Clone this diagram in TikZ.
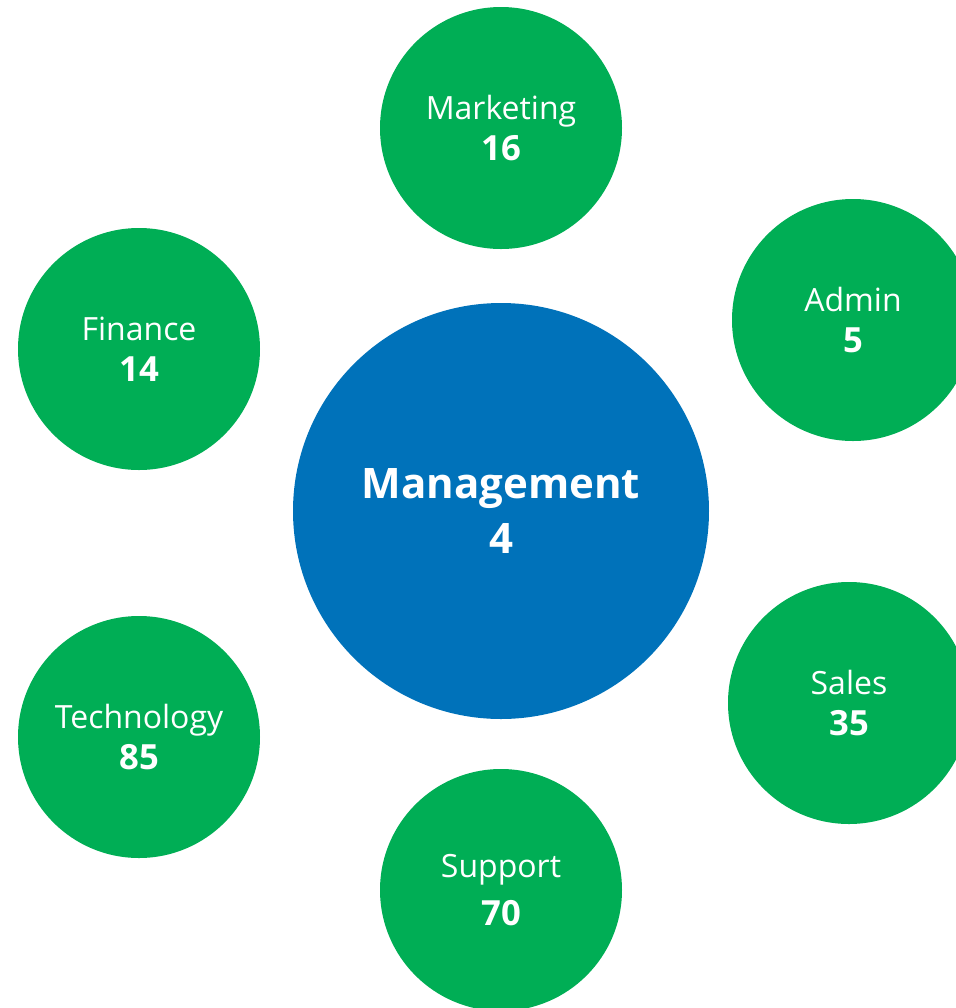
\documentclass[tikz,border=0pt]{standalone}
\usepackage{fontspec}
\setmainfont{Open Sans}
\definecolor{deptgreen}{RGB}{0,174,85}
\definecolor{hubblue}{RGB}{0,114,186}
\newcommand{\headcount}[1]{{\bfseries\fontsize{26}{31}\selectfont #1}}
\tikzset{
  dept/.style={circle,fill=deptgreen,text=white,minimum size=181.5pt,inner sep=0pt,align=center,font=\fontsize{24}{31}\selectfont},
  hub/.style={circle,fill=hubblue,text=white,minimum size=312pt,inner sep=0pt,align=center,font=\bfseries\fontsize{31.5}{41}\selectfont}
}
\begin{document}
\begin{tikzpicture}[x=0.75pt,y=-0.75pt]
	\clip (0,0) rectangle (956,1008);
	\useasboundingbox (0,0) rectangle (956,1008);
	\node[hub] (management) at (501,511) {Management\\4};
	\node[dept] (marketing) at (501,128) {Marketing\\\headcount{16}};
	\node[dept] (admin) at (853,320) {Admin\\\headcount{5}};
	\node[dept] (finance) at (139,349) {Finance\\\headcount{14}};
	\node[dept] (sales) at (849,703) {Sales\\\headcount{35}};
	\node[dept] (technology) at (139,737) {Technology\\\headcount{85}};
	\node[dept] (support) at (501,890) {Support\\[4.5pt]\headcount{70}};
\end{tikzpicture}
\end{document}
